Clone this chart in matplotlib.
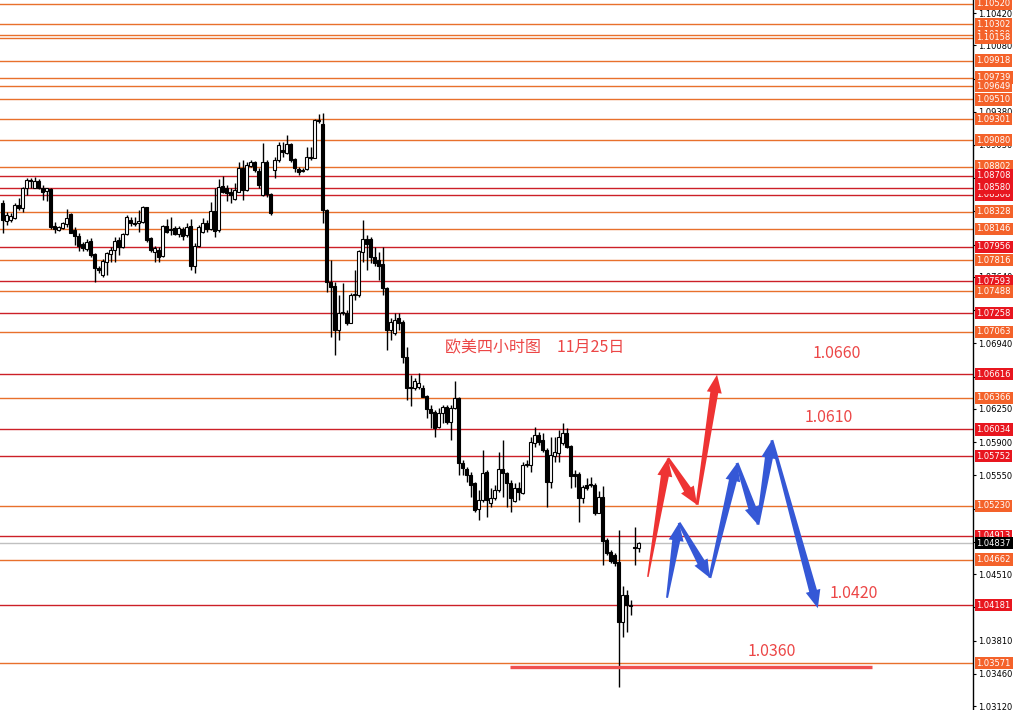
import numpy as np
import matplotlib
matplotlib.use('Agg')
import matplotlib.pyplot as plt
from matplotlib.patches import Polygon
from matplotlib import transforms

# EURUSD 4H candles (open / high / low / close)
opens = [
    1.0842, 1.0823, 1.0824, 1.0826, 1.0840, 1.0837, 1.0858, 1.0866, 1.0858, 1.0865,
    1.0858, 1.0854, 1.0857, 1.0818, 1.0813, 1.0816, 1.0820, 1.0830, 1.0813, 1.0807,
    1.0799, 1.0793, 1.0802, 1.0788, 1.0773, 1.0766, 1.0780, 1.0788, 1.0792, 1.0803,
    1.0795, 1.0809, 1.0824, 1.0821, 1.0821, 1.0822, 1.0838, 1.0805, 1.0790, 1.0792,
    1.0786, 1.0818, 1.0814, 1.0816, 1.0809, 1.0815, 1.0808, 1.0818, 1.0776, 1.0797,
    1.0811, 1.0821, 1.0815, 1.0833, 1.0813, 1.0860, 1.0858, 1.0853, 1.0846, 1.0853,
    1.0879, 1.0856, 1.0881, 1.0885, 1.0876, 1.0850, 1.0885, 1.0851, 1.0877, 1.0887,
    1.0898, 1.0895, 1.0904, 1.0888, 1.0878, 1.0876, 1.0878, 1.0890, 1.0889, 1.0929,
    1.0925, 1.0835, 1.0759, 1.0754, 1.0708, 1.0726, 1.0726, 1.0715, 1.0745, 1.0745,
    1.0790, 1.0804, 1.0804, 1.0785, 1.0782, 1.0778, 1.0752, 1.0708, 1.0705, 1.0721,
    1.0716, 1.0680, 1.0648, 1.0647, 1.0648, 1.0647, 1.0639, 1.0625, 1.0622, 1.0606,
    1.0621, 1.0627, 1.0611, 1.0626, 1.0636, 1.0568, 1.0562, 1.0555, 1.0547, 1.0520,
    1.0529, 1.0558, 1.0526, 1.0531, 1.0540, 1.0562, 1.0557, 1.0547, 1.0528, 1.0542,
    1.0536, 1.0566, 1.0566, 1.0589, 1.0598, 1.0592, 1.0582, 1.0548, 1.0575, 1.0578,
    1.0589, 1.0600, 1.0586, 1.0556, 1.0556, 1.0531, 1.0545, 1.0545, 1.0545, 1.0515,
    1.0532, 1.0487, 1.0474, 1.0471, 1.0464, 1.0401, 1.0429, 1.0418, 1.0480, 1.0478,
]
highs = [
    1.0845, 1.0832, 1.0831, 1.0842, 1.0847, 1.0859, 1.0868, 1.0868, 1.0869, 1.0867,
    1.0861, 1.0858, 1.0858, 1.0822, 1.0818, 1.0822, 1.0836, 1.0831, 1.0817, 1.0810,
    1.0801, 1.0804, 1.0805, 1.0789, 1.0776, 1.0783, 1.0790, 1.0795, 1.0806, 1.0806,
    1.0810, 1.0829, 1.0827, 1.0827, 1.0835, 1.0839, 1.0838, 1.0806, 1.0797, 1.0795,
    1.0819, 1.0825, 1.0827, 1.0818, 1.0818, 1.0817, 1.0821, 1.0825, 1.0800, 1.0819,
    1.0826, 1.0824, 1.0843, 1.0858, 1.0867, 1.0870, 1.0861, 1.0858, 1.0863, 1.0885,
    1.0887, 1.0885, 1.0887, 1.0886, 1.0879, 1.0905, 1.0887, 1.0852, 1.0890, 1.0906,
    1.0906, 1.0913, 1.0905, 1.0889, 1.0880, 1.0879, 1.0901, 1.0901, 1.0930, 1.0936,
    1.0937, 1.0836, 1.0782, 1.0759, 1.0745, 1.0758, 1.0729, 1.0747, 1.0771, 1.0792,
    1.0824, 1.0808, 1.0806, 1.0796, 1.0790, 1.0796, 1.0753, 1.0721, 1.0726, 1.0726,
    1.0719, 1.0690, 1.0661, 1.0658, 1.0663, 1.0650, 1.0640, 1.0629, 1.0624, 1.0626,
    1.0629, 1.0629, 1.0629, 1.0654, 1.0638, 1.0571, 1.0564, 1.0558, 1.0548, 1.0540,
    1.0582, 1.0561, 1.0542, 1.0545, 1.0580, 1.0592, 1.0559, 1.0550, 1.0547, 1.0548,
    1.0569, 1.0571, 1.0595, 1.0606, 1.0601, 1.0600, 1.0584, 1.0595, 1.0595, 1.0603,
    1.0610, 1.0605, 1.0587, 1.0561, 1.0558, 1.0545, 1.0552, 1.0553, 1.0547, 1.0538,
    1.0544, 1.0489, 1.0476, 1.0473, 1.0497, 1.0438, 1.0434, 1.0424, 1.0501, 1.0485,
]
lows = [
    1.0810, 1.0819, 1.0822, 1.0825, 1.0835, 1.0832, 1.0850, 1.0858, 1.0858, 1.0857,
    1.0845, 1.0844, 1.0814, 1.0810, 1.0812, 1.0815, 1.0817, 1.0810, 1.0798, 1.0791,
    1.0791, 1.0791, 1.0785, 1.0759, 1.0768, 1.0764, 1.0766, 1.0780, 1.0780, 1.0787,
    1.0794, 1.0808, 1.0818, 1.0818, 1.0811, 1.0821, 1.0801, 1.0790, 1.0780, 1.0780,
    1.0785, 1.0810, 1.0808, 1.0808, 1.0806, 1.0803, 1.0806, 1.0771, 1.0768, 1.0796,
    1.0810, 1.0811, 1.0813, 1.0806, 1.0811, 1.0852, 1.0844, 1.0842, 1.0845, 1.0853,
    1.0845, 1.0855, 1.0880, 1.0874, 1.0858, 1.0849, 1.0848, 1.0829, 1.0868, 1.0885,
    1.0890, 1.0894, 1.0885, 1.0875, 1.0871, 1.0874, 1.0877, 1.0887, 1.0889, 1.0926,
    1.0821, 1.0748, 1.0701, 1.0682, 1.0698, 1.0724, 1.0713, 1.0715, 1.0740, 1.0743,
    1.0780, 1.0771, 1.0779, 1.0776, 1.0761, 1.0745, 1.0687, 1.0698, 1.0703, 1.0708,
    1.0673, 1.0634, 1.0628, 1.0645, 1.0646, 1.0637, 1.0615, 1.0605, 1.0595, 1.0605,
    1.0610, 1.0609, 1.0592, 1.0625, 1.0555, 1.0555, 1.0548, 1.0532, 1.0516, 1.0508,
    1.0527, 1.0511, 1.0522, 1.0529, 1.0537, 1.0532, 1.0522, 1.0516, 1.0527, 1.0529,
    1.0535, 1.0564, 1.0559, 1.0585, 1.0587, 1.0580, 1.0522, 1.0542, 1.0569, 1.0569,
    1.0587, 1.0584, 1.0542, 1.0543, 1.0506, 1.0526, 1.0540, 1.0543, 1.0513, 1.0515,
    1.0461, 1.0471, 1.0463, 1.0459, 1.0332, 1.0385, 1.0390, 1.0408, 1.0461, 1.0474,
]
closes = [
    1.0824, 1.0829, 1.0828, 1.0840, 1.0837, 1.0858, 1.0866, 1.0865, 1.0865, 1.0858,
    1.0853, 1.0858, 1.0817, 1.0814, 1.0817, 1.0821, 1.0826, 1.0810, 1.0807, 1.0797,
    1.0794, 1.0801, 1.0787, 1.0773, 1.0771, 1.0781, 1.0789, 1.0792, 1.0802, 1.0795,
    1.0809, 1.0827, 1.0821, 1.0820, 1.0823, 1.0838, 1.0803, 1.0792, 1.0794, 1.0785,
    1.0818, 1.0811, 1.0813, 1.0809, 1.0816, 1.0807, 1.0817, 1.0776, 1.0797, 1.0817,
    1.0821, 1.0815, 1.0833, 1.0812, 1.0859, 1.0853, 1.0852, 1.0850, 1.0856, 1.0879,
    1.0856, 1.0882, 1.0885, 1.0877, 1.0861, 1.0885, 1.0851, 1.0831, 1.0887, 1.0903,
    1.0896, 1.0904, 1.0887, 1.0879, 1.0875, 1.0877, 1.0890, 1.0889, 1.0929, 1.0928,
    1.0835, 1.0759, 1.0753, 1.0708, 1.0726, 1.0727, 1.0715, 1.0745, 1.0746, 1.0791,
    1.0804, 1.0799, 1.0785, 1.0779, 1.0776, 1.0752, 1.0708, 1.0716, 1.0719, 1.0715,
    1.0680, 1.0647, 1.0647, 1.0654, 1.0652, 1.0638, 1.0625, 1.0621, 1.0605, 1.0621,
    1.0627, 1.0611, 1.0626, 1.0636, 1.0568, 1.0563, 1.0555, 1.0545, 1.0518, 1.0529,
    1.0557, 1.0529, 1.0531, 1.0540, 1.0562, 1.0557, 1.0547, 1.0531, 1.0542, 1.0537,
    1.0566, 1.0567, 1.0590, 1.0598, 1.0590, 1.0582, 1.0548, 1.0576, 1.0580, 1.0595,
    1.0600, 1.0585, 1.0554, 1.0554, 1.0531, 1.0543, 1.0542, 1.0546, 1.0515, 1.0532,
    1.0486, 1.0473, 1.0465, 1.0463, 1.0401, 1.0429, 1.0418, 1.0417, 1.0478, 1.0484,
]

# horizontal levels: 'o' = orange, 'r' = red (first two are the ones partly hidden)
level_prices = [1.10190, 1.08508, 1.10520, 1.10302, 1.10158, 1.09918, 1.09739, 1.09649,
                1.09510, 1.09301, 1.09080, 1.08802, 1.08708, 1.08580, 1.08328, 1.08146,
                1.07956, 1.07816, 1.07593, 1.07488, 1.07258, 1.07063, 1.06616, 1.06366,
                1.06034, 1.05752, 1.05230, 1.04913, 1.04662, 1.04181, 1.03571]
level_kinds = ['o', 'r', 'o', 'o', 'o', 'o', 'o', 'o',
               'o', 'o', 'o', 'o', 'r', 'r', 'o', 'o',
               'r', 'o', 'r', 'o', 'r', 'o', 'r', 'o',
               'r', 'r', 'o', 'r', 'o', 'r', 'o']
current_price = 1.04837

axis_ticks = [1.03120, 1.03460, 1.03810, 1.04160, 1.04510, 1.04850, 1.05200, 1.05550,
              1.05900, 1.06250, 1.06590, 1.06940, 1.07290, 1.07640, 1.07980, 1.08330,
              1.08680, 1.09030, 1.09380, 1.09720, 1.10080, 1.10420]

# forecast paths (bar index, price)
red_path_x = [161.3, 166.3, 173.6, 178.6]
red_path_p = [1.0448, 1.0573, 1.0524, 1.0661]
blue_path_x = [166.1, 169.1, 176.8, 183.6, 188.8, 192.3, 203.8]
blue_path_p = [1.0426, 1.0505, 1.0447, 1.0568, 1.0503, 1.0592, 1.0415]
target_price = 1.0353
target_span = [126.8, 217.3]

title_text = '欧美四小时图\u300011月25日'
target_labels = ['1.0660', '1.0610', '1.0420', '1.0360']

ORANGE_LINE = '#E8702C'
RED_LINE = '#CC2028'
ORANGE_BOX = '#F4622A'
RED_BOX = '#E8161F'
TXT_RED = '#EC4646'
CJK = ['Noto Sans CJK SC', 'DejaVu Sans']


def fat_arrow(ax, x0, y0, x1, y1, color, tail_w=2, shaft_w=7, head_w=15, head_len=18):
    # build the arrow in pixel space so it keeps its shape
    p0 = ax.transData.transform((x0, y0))
    p1 = ax.transData.transform((x1, y1))
    d = p1 - p0
    u = d / np.hypot(*d)
    n = np.array([-u[1], u[0]])
    b = p1 - u * head_len
    pts = [p0 + n * tail_w / 2, b + n * shaft_w / 2, b + n * head_w / 2, p1,
           b - n * head_w / 2, b - n * shaft_w / 2, p0 - n * tail_w / 2]
    pts = ax.transData.inverted().transform(np.array(pts))
    ax.add_patch(Polygon(pts, closed=True, fc=color, ec='none', zorder=6))


fig = plt.figure(figsize=(10.13, 7.10), dpi=100)
ax = fig.add_axes([0, 0, 973 / 1013, 1])
ax.set_xlim(-0.675, 242.6)
ax.set_ylim(1.03078, 1.10557)

o = np.array(opens)
h = np.array(highs)
l = np.array(lows)
c = np.array(closes)
x = np.arange(len(o))

# levels
for p, k in zip(level_prices, level_kinds):
    ax.axhline(p, color=ORANGE_LINE if k == 'o' else RED_LINE, lw=1, zorder=1)
ax.axhline(current_price, color='#C0C0C0', lw=1, zorder=1)

# candles
top = np.maximum(h, np.maximum(o, c))
bot = np.minimum(l, np.minimum(o, c))
ax.vlines(x, bot, top, color='black', lw=1.0, zorder=2)
up = c >= o
ax.bar(x[up], c[up] - o[up], bottom=o[up], width=0.75, color='white',
       edgecolor='black', linewidth=0.8, zorder=3)
ax.bar(x[~up], o[~up] - c[~up], bottom=c[~up], width=0.75, color='black',
       edgecolor='black', linewidth=0.8, zorder=3)

# target line and arrows
ax.plot(target_span, [target_price, target_price], color='#F05050', lw=2.4,
        solid_capstyle='butt', zorder=4)

for i in range(len(red_path_x) - 1):
    fat_arrow(ax, red_path_x[i], red_path_p[i], red_path_x[i + 1], red_path_p[i + 1],
              '#EE3333', tail_w=1.5 if i == 0 else 3, shaft_w=8)
for i in range(len(blue_path_x) - 1):
    fat_arrow(ax, blue_path_x[i], blue_path_p[i], blue_path_x[i + 1], blue_path_p[i + 1],
              '#3558D6', tail_w=2 if i == 0 else 3, shaft_w=8)

# annotations
ax.text(445 / 973, 1 - 348 / 710, title_text, transform=ax.transAxes, color=TXT_RED,
        fontsize=11.5, family=CJK, ha='left', va='center')
label_pos = [(813, 354), (805, 417), (830, 593), (748, 652)]
for s, (px, py) in zip(target_labels, label_pos):
    ax.text(px / 973, 1 - py / 710, s, transform=ax.transAxes, color=TXT_RED,
            fontsize=11.5, family=CJK, ha='left', va='center')

# right price axis
for sp in ['left', 'top', 'bottom']:
    ax.spines[sp].set_visible(False)
ax.spines['right'].set_color('black')
ax.spines['right'].set_linewidth(1)
ax.set_xticks([])
ax.yaxis.tick_right()
ax.set_yticks(axis_ticks)
ax.set_yticklabels([f'{v:.5f}' for v in axis_ticks], fontsize=6)
ax.tick_params(axis='y', length=2.5, width=0.8, pad=1.2, colors='black')

trans = transforms.blended_transform_factory(ax.transAxes, ax.transData)
for p, k in zip(level_prices, level_kinds):
    ax.text(1.0036, p, f'{p:.5f}', transform=trans, color='white', fontsize=6,
            ha='left', va='center', clip_on=False, zorder=7,
            bbox=dict(boxstyle='square,pad=0.2', fc=ORANGE_BOX if k == 'o' else RED_BOX, ec='none'))
ax.text(1.0036, current_price, f'{current_price:.5f}', transform=trans, color='white',
        fontsize=6, ha='left', va='center', clip_on=False, zorder=8,
        bbox=dict(boxstyle='square,pad=0.2', fc='black', ec='none'))

fig.savefig('out.png', dpi=100, facecolor='white')
